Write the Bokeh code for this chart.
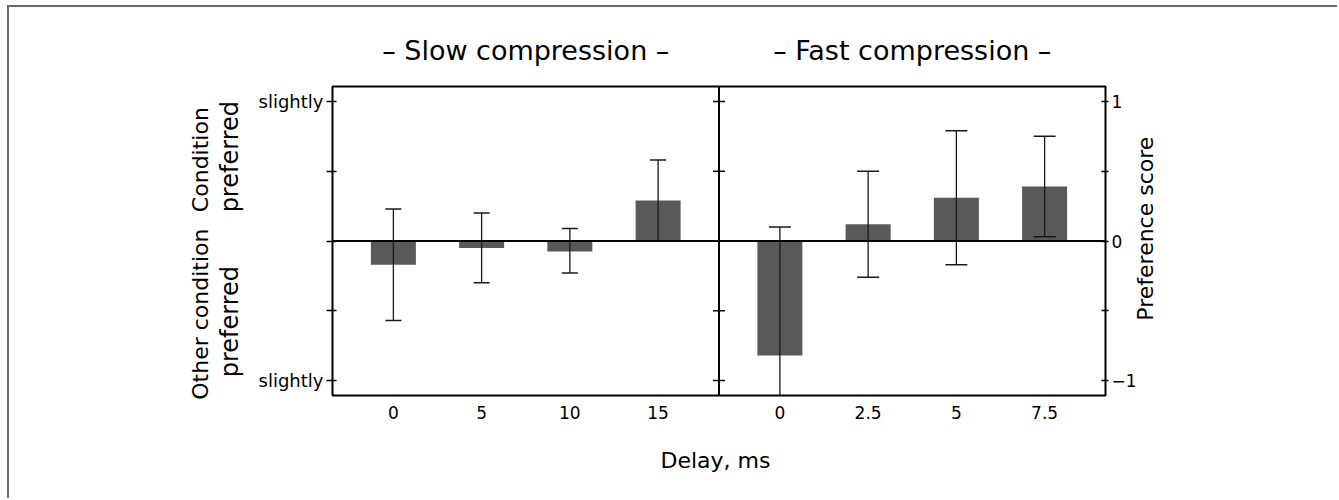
import math
from bokeh.plotting import figure
from bokeh.models import Range1d, LinearAxis, FixedTicker, Span
from bokeh.embed import file_html
from bokeh.resources import INLINE

# ---- data ----
slow_delays = ["0", "5", "10", "15"]
slow_scores = [-0.17, -0.05, -0.075, 0.29]
slow_lower = [-0.57, -0.30, -0.23, 0.0]
slow_upper = [0.23, 0.20, 0.09, 0.58]

fast_delays = ["0", "2.5", "5", "7.5"]
fast_scores = [-0.82, 0.12, 0.31, 0.39]
fast_lower = [-1.74, -0.26, -0.17, 0.03]
fast_upper = [0.10, 0.50, 0.79, 0.75]

panel_titles = ["\u2013 Slow compression \u2013", "\u2013 Fast compression \u2013"]
y_ticks = [-1, -0.5, 0, 0.5, 1]
left_tick_text = {1: "slightly", -1: "slightly"}
right_tick_text = {1: "1", 0: "0", -1: "\u22121"}
outer_desc = {0.583: "Condition", -0.524: "Other condition"}
inner_desc = {0.604: "preferred", -0.578: "preferred"}
right_desc = {-0.571: "Preference score"}

FONT = "DejaVu Sans"
BAR = "#58595b"
INK = "#1a1a1a"
PAD = 0.69
YMAX = 1.107

n = len(slow_delays)
xs_slow = [float(i) for i in range(n)]
offset = (n - 1) + 2 * PAD
xs_fast = [offset + i for i in range(n)]
boundary = (n - 1) + PAD
x_end = xs_fast[-1] + PAD

p = figure(width=1330, height=493, output_backend="svg", toolbar_location=None,
           x_range=Range1d(-PAD, x_end), y_range=Range1d(-YMAX, YMAX),
           min_border_left=323, min_border_right=234, min_border_top=79,
           min_border_bottom=105)
p.styles = {"margin-top": "5px", "margin-left": "7px",
            "border-top": "2px solid #6b6b6b", "border-left": "2px solid #6b6b6b"}
p.xgrid.visible = False
p.ygrid.visible = False
p.outline_line_color = "black"
p.outline_line_width = 2
p.background_fill_color = "white"
p.border_fill_color = "white"

# bars
p.vbar(x=xs_slow, top=slow_scores, bottom=0, width=0.51, fill_color=BAR, line_color=None)
p.vbar(x=xs_fast, top=fast_scores, bottom=0, width=0.51, fill_color=BAR, line_color=None)

# error bars
for xs, lo, hi, cap in [(xs_slow, slow_lower, slow_upper, 16), (xs_fast, fast_lower, fast_upper, 22)]:
    p.segment(x0=xs, y0=lo, x1=xs, y1=hi, line_color=INK, line_width=1.3)
    p.scatter(x=xs, y=hi, marker="dash", size=cap, line_color=INK, line_width=1.5)
    p.scatter(x=xs, y=lo, marker="dash", size=cap, line_color=INK, line_width=1.5)

# zero line and panel divider
p.add_layout(Span(location=0, dimension="width", line_color="black", line_width=2))
p.add_layout(Span(location=boundary, dimension="height", line_color="black", line_width=2))
p.scatter(x=[boundary] * len(y_ticks), y=y_ticks, marker="dash", size=12,
          line_color="black", line_width=1.5)


def text_axis(ax, size):
    ax.major_label_text_font = FONT
    ax.major_label_text_font_size = size
    ax.major_label_text_color = "black"
    ax.minor_tick_line_color = None


def bare(ax):
    ax.axis_line_color = None
    ax.major_tick_line_color = None
    ax.major_tick_in = 0
    ax.major_tick_out = 0


# left axis
ya = p.yaxis[0]
ya.ticker = FixedTicker(ticks=y_ticks)
ya.major_label_overrides = {t: left_tick_text.get(t, "") for t in y_ticks}
ya.major_tick_in = 4
ya.major_tick_out = 6
ya.major_tick_line_width = 1.5
ya.axis_line_color = None
ya.major_label_standoff = 3
text_axis(ya, "18px")

# left descriptive rotated labels (two extra text-only axes)
inner = LinearAxis(ticker=FixedTicker(ticks=list(inner_desc)),
                   major_label_overrides=inner_desc, major_label_orientation="vertical",
                   major_label_standoff=11)
bare(inner)
text_axis(inner, "24px")
p.add_layout(inner, "left")
outer = LinearAxis(ticker=FixedTicker(ticks=list(outer_desc)),
                   major_label_overrides=outer_desc, major_label_orientation="vertical",
                   major_label_standoff=0)
bare(outer)
text_axis(outer, "22px")
p.add_layout(outer, "left")

# right axis
ra = LinearAxis(ticker=FixedTicker(ticks=y_ticks),
                major_label_overrides={t: right_tick_text.get(t, "") for t in y_ticks})
ra.major_tick_in = 4
ra.major_tick_out = 3
ra.major_tick_line_width = 1.5
ra.axis_line_color = None
ra.major_label_standoff = 3
text_axis(ra, "17px")
p.add_layout(ra, "right")

# right rotated description
rd = LinearAxis(ticker=FixedTicker(ticks=list(right_desc)),
                major_label_overrides=right_desc, major_label_orientation=math.pi / 2,
                major_label_standoff=6)
bare(rd)
text_axis(rd, "22px")
p.add_layout(rd, "right")

# bottom axis
xa = p.xaxis[0]
xticks = xs_slow + xs_fast
xlabels = slow_delays + fast_delays
xa.ticker = FixedTicker(ticks=xticks)
xa.major_label_overrides = {t: s for t, s in zip(xticks, xlabels)}
bare(xa)
xa.major_label_standoff = 10
text_axis(xa, "17px")
xa.axis_label = "Delay,  ms"
xa.axis_label_text_font = FONT
xa.axis_label_text_font_size = "22px"
xa.axis_label_text_font_style = "normal"
xa.axis_label_text_color = "black"
xa.axis_label_standoff = 26

# panel titles as a text-only top axis centred on each panel
centers = [(xs_slow[0] + xs_slow[-1]) / 2, (xs_fast[0] + xs_fast[-1]) / 2]
ta = LinearAxis(ticker=FixedTicker(ticks=centers),
                major_label_overrides={c: t for c, t in zip(centers, panel_titles)},
                major_label_standoff=21)
bare(ta)
text_axis(ta, "27px")
p.add_layout(ta, "above")

open("out.html", "w").write(file_html(p, INLINE))
